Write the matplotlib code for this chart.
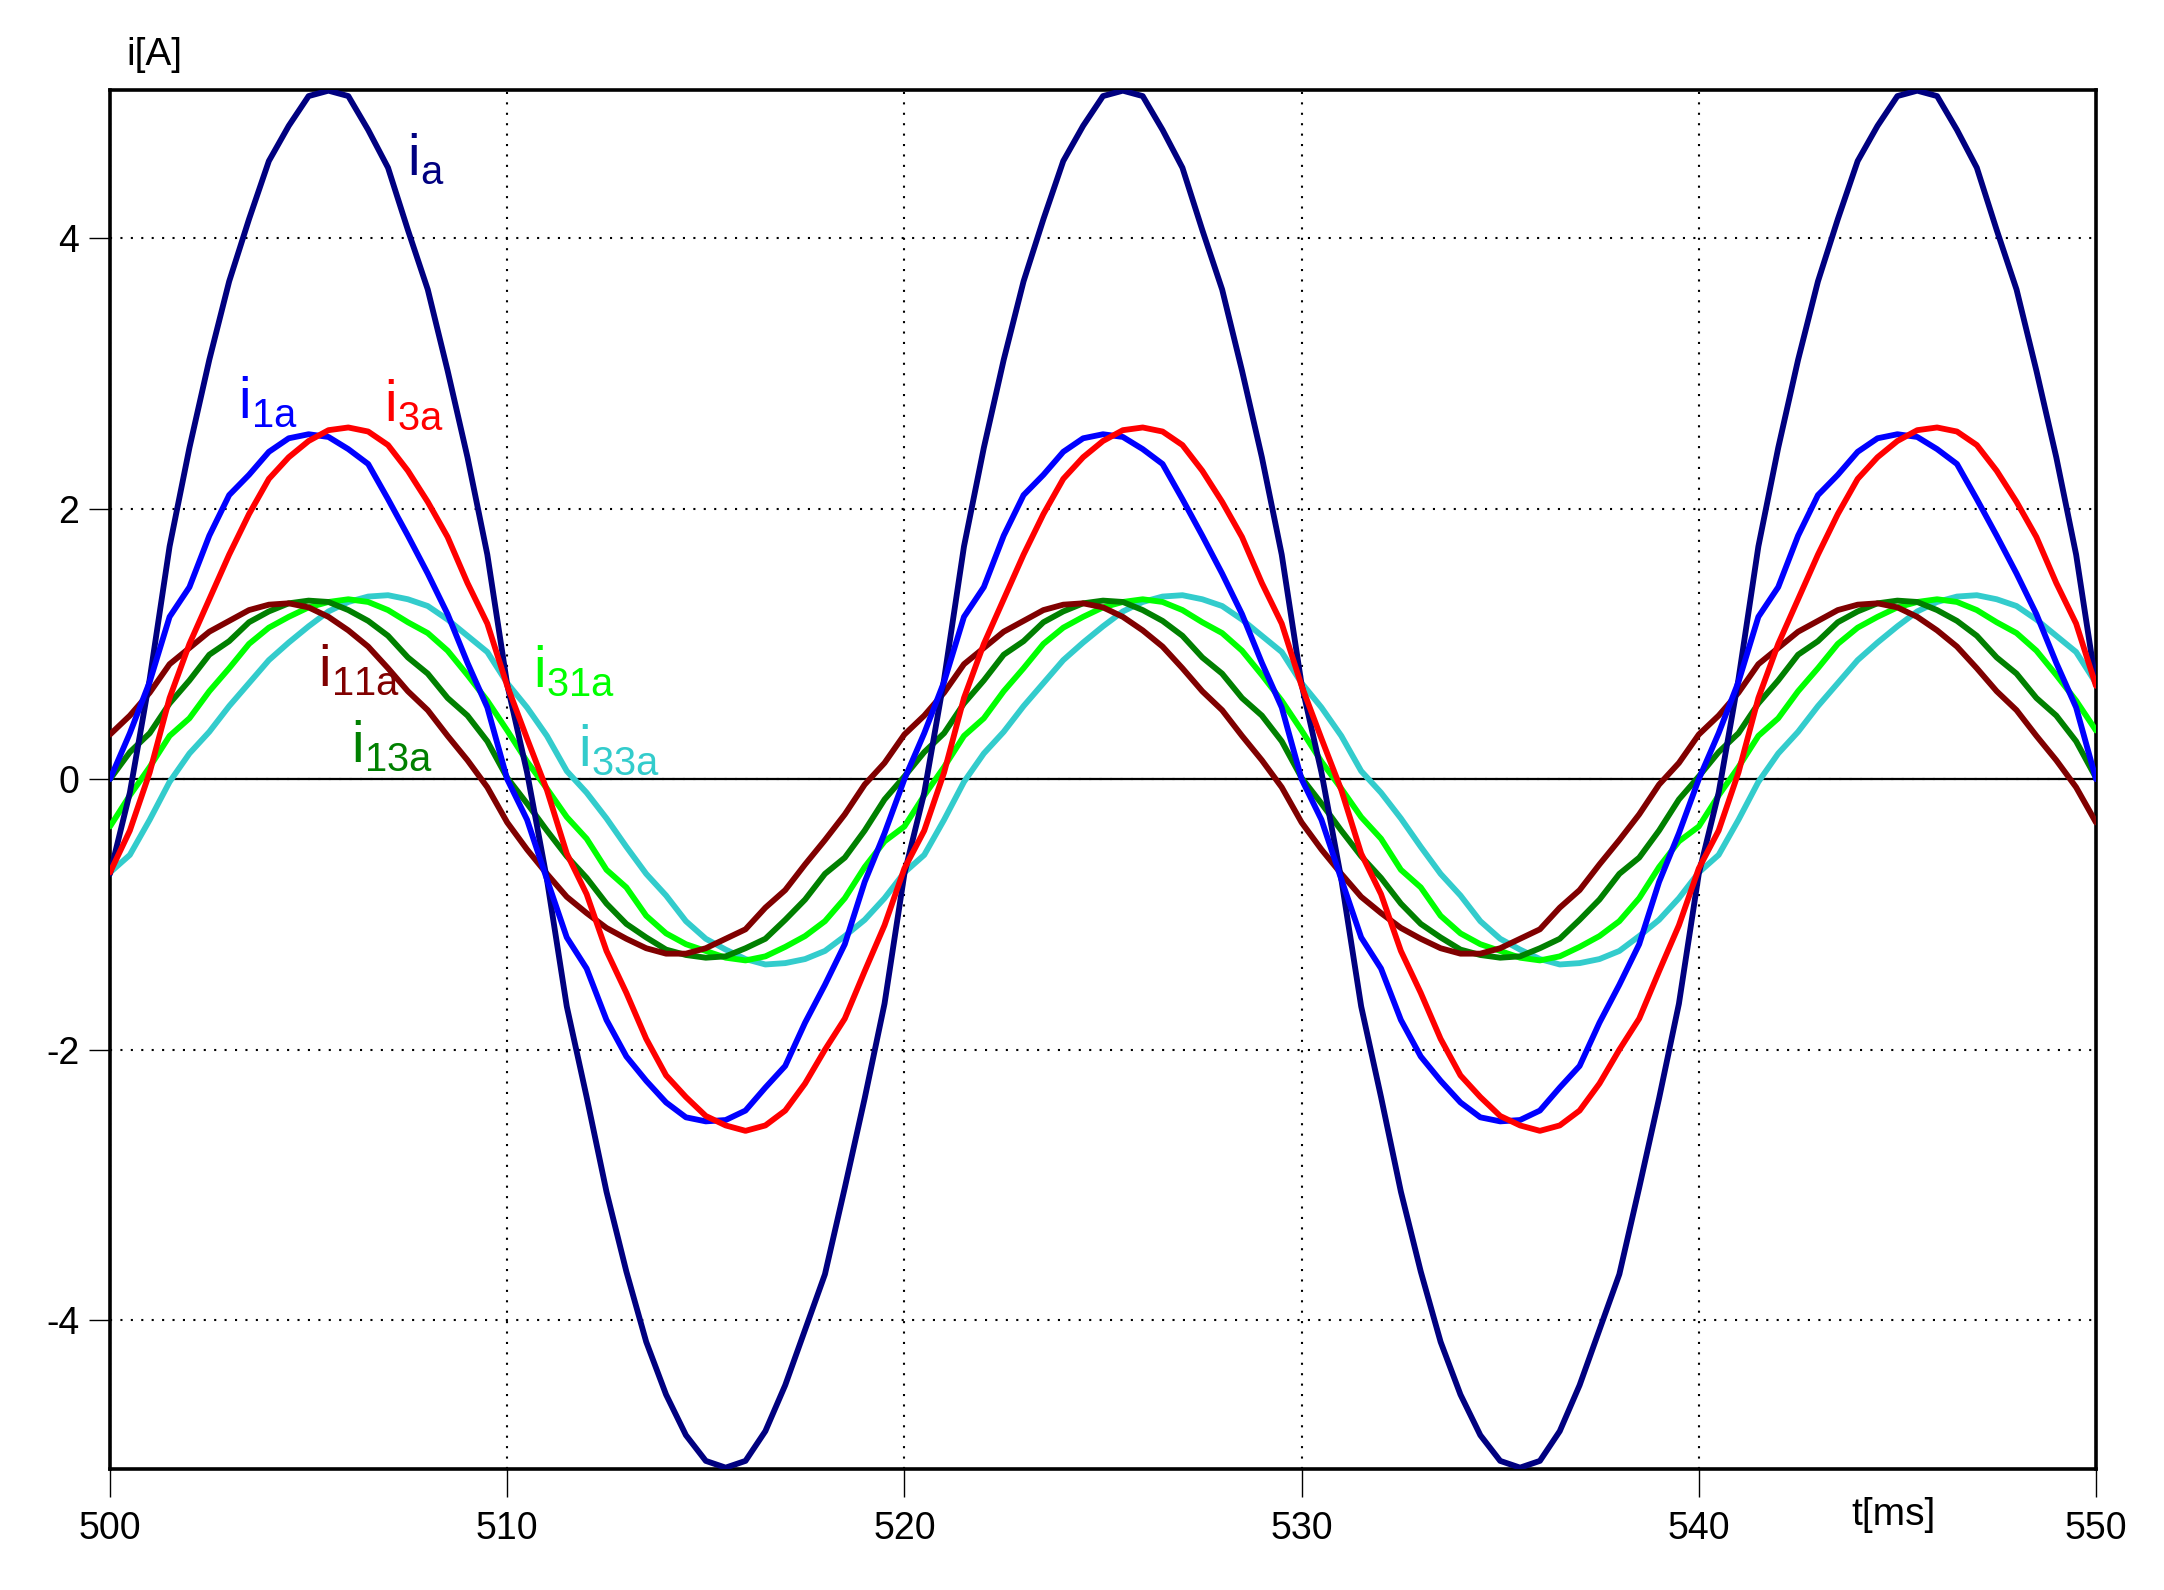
import matplotlib
matplotlib.use("Agg")
import matplotlib.pyplot as plt
import numpy as np

plt.rcParams['font.family'] = ['Liberation Sans', 'DejaVu Sans']
plt.rcParams['mathtext.fontset'] = 'custom'
plt.rcParams['mathtext.rm'] = 'Liberation Sans'
plt.rcParams['axes.unicode_minus'] = False
plt.rcParams['lines.scale_dashes'] = False

# time axis [ms], sampled every 0.5 ms
t = np.arange(500.0, 550.01, 0.5)

i_a = [
    -0.70, -0.10, 0.74, 1.72, 2.45, 3.10, 3.68, 4.14, 4.57, 4.83, 5.05, 5.09, 5.05, 4.80, 4.52, 4.06, 3.62, 3.02, 2.38, 1.66, 0.70,
    0.05, -0.74, -1.68, -2.35, -3.05, -3.64, -4.16, -4.55, -4.85, -5.04, -5.09, -5.04, -4.82, -4.48, -4.07, -3.66, -3.02, -2.36, -1.66, -0.70,
    -0.10, 0.74, 1.72, 2.45, 3.10, 3.68, 4.14, 4.57, 4.83, 5.05, 5.09, 5.05, 4.80, 4.52, 4.06, 3.62, 3.02, 2.38, 1.66, 0.70,
    0.05, -0.74, -1.68, -2.35, -3.05, -3.64, -4.16, -4.55, -4.85, -5.04, -5.09, -5.04, -4.82, -4.48, -4.07, -3.66, -3.02, -2.36, -1.66, -0.70,
    -0.10, 0.74, 1.72, 2.45, 3.10, 3.68, 4.14, 4.57, 4.83, 5.05, 5.09, 5.05, 4.80, 4.52, 4.06, 3.62, 3.02, 2.38, 1.66, 0.70,
]
i_1a = [
    0.00, 0.34, 0.72, 1.20, 1.42, 1.80, 2.10, 2.25, 2.42, 2.52, 2.55, 2.53, 2.44, 2.33, 2.07, 1.80, 1.52, 1.22, 0.86, 0.53, 0.00,
    -0.30, -0.74, -1.17, -1.40, -1.78, -2.05, -2.23, -2.39, -2.50, -2.53, -2.52, -2.45, -2.28, -2.12, -1.80, -1.52, -1.22, -0.76, -0.40, 0.00,
    0.34, 0.72, 1.20, 1.42, 1.80, 2.10, 2.25, 2.42, 2.52, 2.55, 2.53, 2.44, 2.33, 2.07, 1.80, 1.52, 1.22, 0.86, 0.53, 0.00,
    -0.30, -0.74, -1.17, -1.40, -1.78, -2.05, -2.23, -2.39, -2.50, -2.53, -2.52, -2.45, -2.28, -2.12, -1.80, -1.52, -1.22, -0.76, -0.40, 0.00,
    0.34, 0.72, 1.20, 1.42, 1.80, 2.10, 2.25, 2.42, 2.52, 2.55, 2.53, 2.44, 2.33, 2.07, 1.80, 1.52, 1.22, 0.86, 0.53, 0.00,
]
i_3a = [
    -0.69, -0.38, 0.05, 0.60, 1.00, 1.33, 1.66, 1.96, 2.22, 2.38, 2.50, 2.58, 2.60, 2.57, 2.47, 2.28, 2.05, 1.79, 1.45, 1.15, 0.69,
    0.30, -0.08, -0.55, -0.85, -1.27, -1.58, -1.92, -2.19, -2.35, -2.49, -2.56, -2.60, -2.56, -2.45, -2.25, -2.00, -1.77, -1.42, -1.08, -0.66,
    -0.38, 0.05, 0.60, 1.00, 1.33, 1.66, 1.96, 2.22, 2.38, 2.50, 2.58, 2.60, 2.57, 2.47, 2.28, 2.05, 1.79, 1.45, 1.15, 0.69,
    0.30, -0.08, -0.55, -0.85, -1.27, -1.58, -1.92, -2.19, -2.35, -2.49, -2.56, -2.60, -2.56, -2.45, -2.25, -2.00, -1.77, -1.42, -1.08, -0.66,
    -0.38, 0.05, 0.60, 1.00, 1.33, 1.66, 1.96, 2.22, 2.38, 2.50, 2.58, 2.60, 2.57, 2.47, 2.28, 2.05, 1.79, 1.45, 1.15, 0.69,
]
i_11a = [
    0.33, 0.47, 0.64, 0.85, 0.97, 1.09, 1.17, 1.25, 1.29, 1.30, 1.27, 1.20, 1.10, 0.98, 0.82, 0.65, 0.51, 0.32, 0.14, -0.06, -0.32,
    -0.52, -0.70, -0.87, -0.99, -1.10, -1.18, -1.25, -1.29, -1.29, -1.25, -1.18, -1.11, -0.95, -0.82, -0.63, -0.45, -0.26, -0.04, 0.12, 0.33,
    0.47, 0.64, 0.85, 0.97, 1.09, 1.17, 1.25, 1.29, 1.30, 1.27, 1.20, 1.10, 0.98, 0.82, 0.65, 0.51, 0.32, 0.14, -0.06, -0.32,
    -0.52, -0.70, -0.87, -0.99, -1.10, -1.18, -1.25, -1.29, -1.29, -1.25, -1.18, -1.11, -0.95, -0.82, -0.63, -0.45, -0.26, -0.04, 0.12, 0.33,
    0.47, 0.64, 0.85, 0.97, 1.09, 1.17, 1.25, 1.29, 1.30, 1.27, 1.20, 1.10, 0.98, 0.82, 0.65, 0.51, 0.32, 0.14, -0.06, -0.32,
]
i_13a = [
    0.00, 0.20, 0.34, 0.56, 0.73, 0.92, 1.02, 1.16, 1.24, 1.30, 1.32, 1.31, 1.25, 1.17, 1.06, 0.90, 0.78, 0.60, 0.47, 0.28, 0.01,
    -0.18, -0.38, -0.57, -0.73, -0.92, -1.07, -1.17, -1.26, -1.30, -1.32, -1.31, -1.25, -1.18, -1.04, -0.89, -0.70, -0.58, -0.38, -0.15, 0.02,
    0.20, 0.34, 0.56, 0.73, 0.92, 1.02, 1.16, 1.24, 1.30, 1.32, 1.31, 1.25, 1.17, 1.06, 0.90, 0.78, 0.60, 0.47, 0.28, 0.01,
    -0.18, -0.38, -0.57, -0.73, -0.92, -1.07, -1.17, -1.26, -1.30, -1.32, -1.31, -1.25, -1.18, -1.04, -0.89, -0.70, -0.58, -0.38, -0.15, 0.02,
    0.20, 0.34, 0.56, 0.73, 0.92, 1.02, 1.16, 1.24, 1.30, 1.32, 1.31, 1.25, 1.17, 1.06, 0.90, 0.78, 0.60, 0.47, 0.28, 0.01,
]
i_31a = [
    -0.35, -0.12, 0.09, 0.32, 0.45, 0.65, 0.82, 1.00, 1.12, 1.20, 1.27, 1.31, 1.33, 1.31, 1.25, 1.16, 1.08, 0.95, 0.77, 0.58, 0.36,
    0.13, -0.07, -0.28, -0.44, -0.67, -0.80, -1.01, -1.14, -1.22, -1.27, -1.32, -1.34, -1.31, -1.24, -1.16, -1.05, -0.88, -0.65, -0.46, -0.35,
    -0.12, 0.09, 0.32, 0.45, 0.65, 0.82, 1.00, 1.12, 1.20, 1.27, 1.31, 1.33, 1.31, 1.25, 1.16, 1.08, 0.95, 0.77, 0.58, 0.36,
    0.13, -0.07, -0.28, -0.44, -0.67, -0.80, -1.01, -1.14, -1.22, -1.27, -1.32, -1.34, -1.31, -1.24, -1.16, -1.05, -0.88, -0.65, -0.46, -0.35,
    -0.12, 0.09, 0.32, 0.45, 0.65, 0.82, 1.00, 1.12, 1.20, 1.27, 1.31, 1.33, 1.31, 1.25, 1.16, 1.08, 0.95, 0.77, 0.58, 0.36,
]
i_33a = [
    -0.69, -0.56, -0.30, -0.02, 0.19, 0.35, 0.54, 0.71, 0.88, 1.01, 1.13, 1.24, 1.31, 1.35, 1.36, 1.33, 1.28, 1.18, 1.06, 0.94, 0.71,
    0.53, 0.32, 0.06, -0.10, -0.29, -0.50, -0.70, -0.86, -1.05, -1.18, -1.26, -1.33, -1.37, -1.36, -1.33, -1.27, -1.16, -1.04, -0.88, -0.69,
    -0.56, -0.30, -0.02, 0.19, 0.35, 0.54, 0.71, 0.88, 1.01, 1.13, 1.24, 1.31, 1.35, 1.36, 1.33, 1.28, 1.18, 1.06, 0.94, 0.71,
    0.53, 0.32, 0.06, -0.10, -0.29, -0.50, -0.70, -0.86, -1.05, -1.18, -1.26, -1.33, -1.37, -1.36, -1.33, -1.27, -1.16, -1.04, -0.88, -0.69,
    -0.56, -0.30, -0.02, 0.19, 0.35, 0.54, 0.71, 0.88, 1.01, 1.13, 1.24, 1.31, 1.35, 1.36, 1.33, 1.28, 1.18, 1.06, 0.94, 0.71,
]

x_ticks = [500, 510, 520, 530, 540, 550]
y_ticks = [-4, -2, 0, 2, 4]

# drawing order (bottom -> top)
series = [
    (i_33a, '#33CCCC', r'$\mathregular{i_{33a}}$', 511.78, 0.10),
    (i_31a, '#00FF00', r'$\mathregular{i_{31a}}$', 510.65, 0.68),
    (i_13a, '#008000', r'$\mathregular{i_{13a}}$', 506.07, 0.13),
    (i_11a, '#800000', r'$\mathregular{i_{11a}}$', 505.23, 0.69),
    (i_a,   '#000080', r'$\mathregular{i_{a}}$',   507.48, 4.47),
    (i_1a,  '#0000FF', r'$\mathregular{i_{1a}}$',  503.23, 2.67),
    (i_3a,  '#FF0000', r'$\mathregular{i_{3a}}$',  506.89, 2.65),
]

fig = plt.figure(figsize=(21.64, 15.90), dpi=100)
ax = fig.add_axes([0.05083, 0.07610, 0.91774, 0.86730])

for vals, col, lab, tx, ty in series:
    ax.plot(t, vals, color=col, lw=4.2, solid_joinstyle='round', solid_capstyle='round', zorder=3)
    ax.text(tx, ty, lab, color=col, fontsize=41, ha='left', va='baseline', zorder=5)

ax.axhline(0, color='black', lw=1.6, zorder=2)

ax.set_xlim(500, 550)
ax.set_ylim(-5.10, 5.095)
ax.set_xticks(x_ticks)
ax.set_yticks(y_ticks)
ax.set_xticklabels([str(v) for v in x_ticks])
ax.set_yticklabels([str(v) for v in y_ticks])
ax.grid(True, color='black', lw=1.5, linestyle=(0, (1.5, 6)), zorder=1)
ax.tick_params(axis='x', direction='out', length=20, width=1.0, pad=10, labelsize=27)
ax.tick_params(axis='y', direction='out', length=15, width=1.0, pad=7, labelsize=27)
for sp in ax.spines.values():
    sp.set_linewidth(2.6)

fig.text(0.0582, 0.9591, 'i[A]', fontsize=28, ha='left', va='baseline')
fig.text(0.8557, 0.0409, 't[ms]', fontsize=28, ha='left', va='baseline')

fig.savefig('out.png', dpi=100)
